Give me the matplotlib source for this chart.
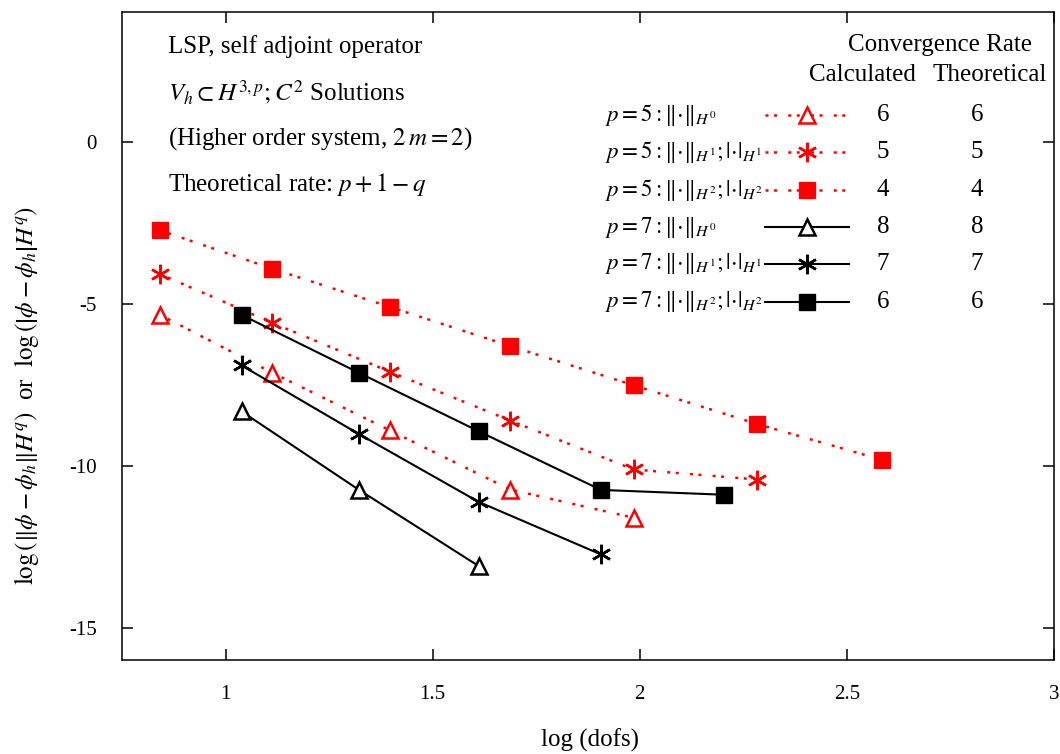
import matplotlib
matplotlib.use("Agg")
import matplotlib.pyplot as plt
from matplotlib.lines import Line2D

plt.rcParams['font.family'] = ['Liberation Serif', 'DejaVu Serif']
plt.rcParams['mathtext.fontset'] = 'stix'

# log(dofs) for p = 5 and p = 7 runs
x_p5 = [0.842, 1.112, 1.396, 1.687, 1.985, 2.284, 2.584]
x_p7 = [1.039, 1.321, 1.611, 1.906, 2.204]

# p = 5 errors (red, dotted)
p5_h0 = [-5.35, -7.13, -8.91, -10.74, -11.61]
p5_h1 = [-4.09, -5.59, -7.10, -8.61, -10.12, -10.43]
p5_h2 = [-2.74, -3.92, -5.10, -6.31, -7.52, -8.72, -9.82]

# p = 7 errors (black, solid)
p7_h0 = [-8.33, -10.74, -13.10]
p7_h1 = [-6.91, -9.02, -11.12, -12.74]
p7_h2 = [-5.35, -7.13, -8.94, -10.75, -10.90]

legend_labels = [
    r'$p=5:\Vert{\cdot}\Vert_{H^0}$',
    r'$p=5:\Vert{\cdot}\Vert_{H^1};|{\cdot}|_{H^1}$',
    r'$p=5:\Vert{\cdot}\Vert_{H^2};|{\cdot}|_{H^2}$',
    r'$p=7:\Vert{\cdot}\Vert_{H^0}$',
    r'$p=7:\Vert{\cdot}\Vert_{H^1};|{\cdot}|_{H^1}$',
    r'$p=7:\Vert{\cdot}\Vert_{H^2};|{\cdot}|_{H^2}$',
]
rate_calc = ['6', '5', '4', '8', '7', '6']
rate_theo = ['6', '5', '4', '8', '7', '6']

info_lines = [
    'LSP, self adjoint operator',
    r'$V_h \subset H^{3,p}; C^2$ Solutions',
    r'(Higher order system, $2\,m = 2$)',
    r'Theoretical rate: $p+1-q$',
]

W, H = 1060, 754


def fx(px):
    return px / W


def fy(py):
    return 1 - py / H


red_dot = (0, (1.2, 2.2, 1.2, 4.5))
star = (6, 2, 0)

styles = [
    dict(color='red', ls=red_dot, lw=1.8, marker='^', ms=11, mfc='white', mec='red', mew=1.8),
    dict(color='red', ls=red_dot, lw=1.8, marker=star, ms=14, mec='red', mew=1.8),
    dict(color='red', ls=red_dot, lw=1.8, marker='s', ms=11, mfc='red', mec='red'),
    dict(color='black', ls='-', lw=1.5, marker='^', ms=11, mfc='white', mec='black', mew=1.8),
    dict(color='black', ls='-', lw=1.5, marker=star, ms=14, mec='black', mew=1.8),
    dict(color='black', ls='-', lw=1.5, marker='s', ms=11, mfc='black', mec='black'),
]

fig = plt.figure(figsize=(10.6, 7.54), dpi=100)
ax = fig.add_axes([fx(122), fy(660), fx(1054) - fx(122), fy(12) - fy(660)])

series = [(x_p5, p5_h0), (x_p5, p5_h1), (x_p5, p5_h2),
          (x_p7, p7_h0), (x_p7, p7_h1), (x_p7, p7_h2)]
for (xs, ys), st in zip(series, styles):
    ax.plot(xs[:len(ys)], ys, **st)

ax.set_xlim(0.75, 3)
ax.set_ylim(-16, 4)
ax.set_xticks([1, 1.5, 2, 2.5, 3])
ax.set_xticklabels(['1', '1.5', '2', '2.5', '3'])
ax.set_yticks([0, -5, -10, -15])
ax.set_yticklabels(['0', '-5', '-10', '-15'])
ax.tick_params(direction='in', length=8, width=1.1, top=True, right=True,
               labelsize=15)
ax.tick_params(axis='x', pad=18)
ax.tick_params(axis='y', pad=18)
for sp in ax.spines.values():
    sp.set_linewidth(1.1)

fig.text(fx(590), fy(740), 'log (dofs)', ha='center', va='center', fontsize=18)
fig.text(fx(27), fy(395),
         r'$\log\left(\left\Vert\phi-\phi_h\right\Vert H^q\right)$  or  '
         r'$\log\left(\left|\phi-\phi_h\right| H^q\right)$',
         rotation=90, ha='center', va='center', fontsize=18)

# info text, top left
for i, s in enumerate(info_lines):
    fig.text(fx(168), fy(47 + i * 46), s, ha='left', va='center', fontsize=18)

# hand-built legend with rate columns
fig.text(fx(940), fy(45), 'Convergence Rate', ha='center', va='center', fontsize=18)
fig.text(fx(862), fy(75), 'Calculated', ha='center', va='center', fontsize=18)
fig.text(fx(990), fy(75), 'Theoretical', ha='center', va='center', fontsize=18)

row_y = [115, 152, 190, 227, 264, 302]
for lab, st, rc, rt, py in zip(legend_labels, styles, rate_calc, rate_theo, row_y):
    fig.text(fx(605), fy(py), lab, ha='left', va='center', fontsize=16.5)
    line_st = {k: v for k, v in st.items() if k in ('color', 'ls', 'lw')}
    fig.add_artist(Line2D([fx(765), fx(849)], [fy(py), fy(py)],
                          transform=fig.transFigure, **line_st))
    mk_st = {k: v for k, v in st.items() if k.startswith('m')}
    fig.add_artist(Line2D([fx(807)], [fy(py)], transform=fig.transFigure,
                          ls='none', **mk_st))
    fig.text(fx(883), fy(py), rc, ha='center', va='center', fontsize=18)
    fig.text(fx(977), fy(py), rt, ha='center', va='center', fontsize=18)

fig.savefig('out.png', dpi=100)
